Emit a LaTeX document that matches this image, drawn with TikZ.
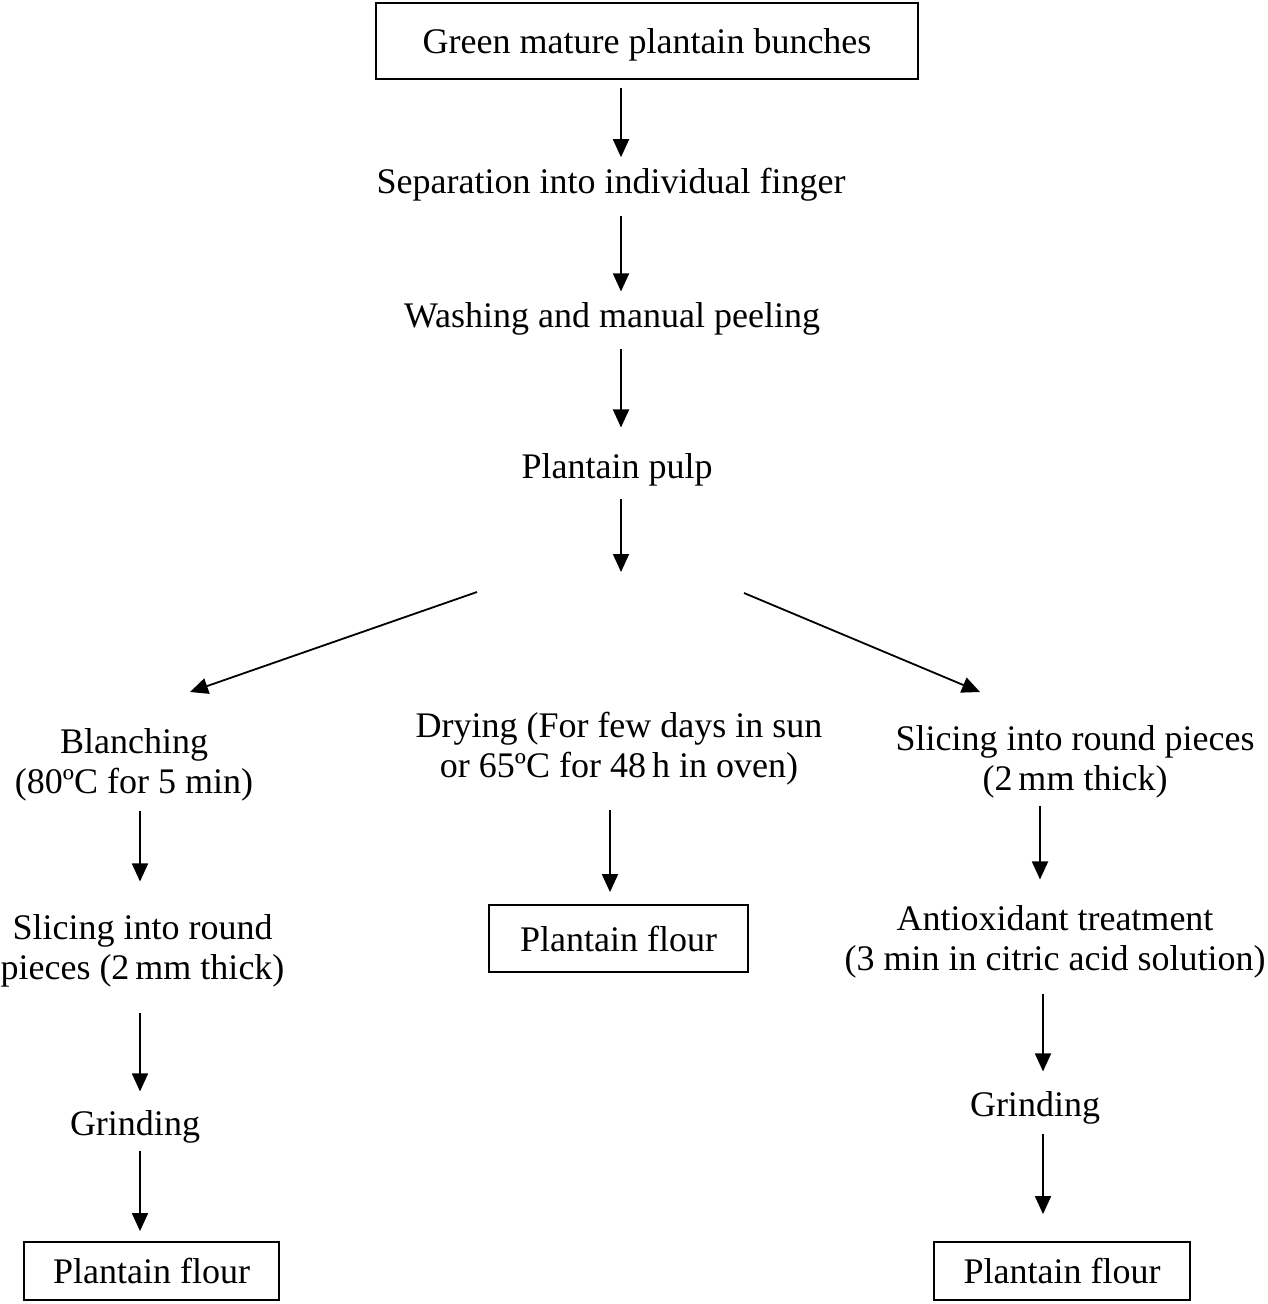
\documentclass[tikz,border=0pt]{standalone}
\usepackage{fontspec}
\setmainfont{Liberation Serif}
\usetikzlibrary{arrows.meta}
\begin{document}
\begin{tikzpicture}[x=1pt,y=-1pt,
  txt/.style={inner sep=0pt,align=center,font=\fontsize{36}{40}\selectfont},
  box/.style={txt,draw,line width=1.8pt},
  arr/.style={line width=1.8pt,-{Triangle[width=16pt,length=18pt]}}]
\useasboundingbox (0,0) rectangle (1267,1304);
% columns
\coordinate (cM) at (621,0);
\coordinate (cL) at (140,0);
\coordinate (cD) at (610,0);
\coordinate (cR) at (1040,0);
\coordinate (cR2) at (1043,0);
% nodes
\node[box,text depth=0pt,minimum width=542pt,minimum height=76pt] (top) at (647,41) {Green mature plantain bunches};
\node[txt] (sep) at (611,185) {Separation into individual finger};
\node[txt] (wash) at (612,319) {Washing and manual peeling};
\node[txt] (pulp) at (617,470) {Plantain pulp};
\coordinate (split) at (621,572);
\coordinate (dls) at (477,592);
\coordinate (dle) at (190,692);
\coordinate (drs) at (744,593);
\coordinate (dre) at (980,692);
% left branch
\node[txt] (blanch) at (134,764.5) {Blanching\\(80ºC for 5 min)};
\node[txt] (sliceL) at (142.5,951) {Slicing into round\\pieces (2\,mm thick)};
\node[txt] (grindL) at (135,1127) {Grinding};
\node[box,minimum width=255pt,minimum height=58pt] (flourL) at (151.5,1271) {Plantain flour};
% middle branch
\node[txt] (dry) at (619,748.5) {Drying (For few days in sun\\or 65ºC for 48\,h in oven)};
\node[box,minimum width=259pt,minimum height=67pt] (flourM) at (618.5,938.5) {Plantain flour};
% right branch
\node[txt] (sliceR) at (1075,762) {Slicing into round pieces\\(2\,mm thick)};
\node[txt] (anti) at (1055,942) {Antioxidant treatment\\(3 min in citric acid solution)};
\node[txt] (grindR) at (1035,1108) {Grinding};
\node[box,minimum width=256pt,minimum height=58pt] (flourR) at (1062,1271) {Plantain flour};
% connectors
\draw[arr,shorten <=8pt,shorten >=11pt] (top.south -| cM) -- (sep.north -| cM);
\draw[arr,shorten <=14pt,shorten >=11pt] (sep.south -| cM) -- (wash.north -| cM);
\draw[arr,shorten <=13pt,shorten >=26pt] (wash.south -| cM) -- (pulp.north -| cM);
\draw[arr,shorten <=12pt] (pulp.south -| cM) -- (split);
\draw[arr] (dls) -- (dle);
\draw[arr] (drs) -- (dre);
\draw[arr,shorten <=9.5pt,shorten >=33pt] (blanch.south -| cL) -- (sliceL.north -| cL);
\draw[arr,shorten <=25pt,shorten >=19pt] (sliceL.south -| cL) -- (grindL.north -| cL);
\draw[arr,shorten <=7pt,shorten >=10pt] (grindL.south -| cL) -- (flourL.north -| cL);
\draw[arr,shorten <=25pt,shorten >=12pt] (dry.south -| cD) -- (flourM.north -| cD);
\draw[arr,shorten <=7pt,shorten >=26pt] (sliceR.south -| cR) -- (anti.north -| cR);
\draw[arr,shorten <=15pt,shorten >=20pt] (anti.south -| cR2) -- (grindR.north -| cR2);
\draw[arr,shorten <=9pt,shorten >=27pt] (grindR.south -| cR2) -- (flourR.north -| cR2);
\end{tikzpicture}
\end{document}
